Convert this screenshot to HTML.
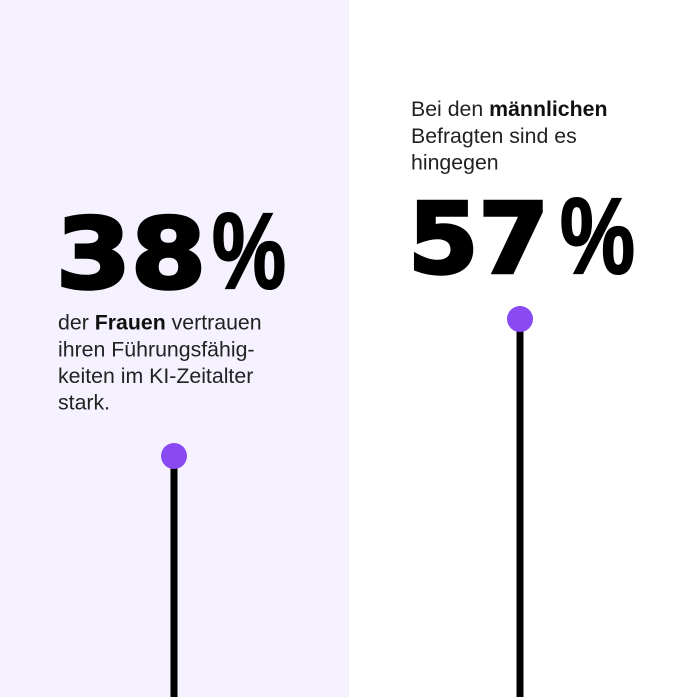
<!DOCTYPE html>
<html><head><meta charset="utf-8">
<style>
html,body{margin:0;padding:0;}
body{width:696px;height:697px;overflow:hidden;background:#fff;}
svg{display:block;}
.t{font-family:"Liberation Sans",sans-serif;font-size:21.3px;fill:#222;}
.b{font-weight:bold;fill:#111;}
.big{font-family:"DejaVu Sans","Liberation Sans",sans-serif;font-weight:bold;font-size:97px;fill:#000;stroke:#000;stroke-width:3.5px;stroke-linejoin:miter;}
.pct{font-family:"Liberation Sans",sans-serif;font-weight:bold;font-size:108px;fill:#000;stroke:#000;stroke-width:2px;}
</style></head>
<body>
<svg width="696" height="697" viewBox="0 0 696 697" xmlns="http://www.w3.org/2000/svg">
<rect x="0" y="0" width="349" height="697" fill="#f5f1fe"/>
<rect x="349" y="0" width="347" height="697" fill="#ffffff"/>

<!-- left -->
<text class="big" x="56" y="287.5" textLength="150" lengthAdjust="spacingAndGlyphs">38</text>
<text class="pct" x="212" y="288" textLength="74" lengthAdjust="spacingAndGlyphs">%</text>
<text class="t" x="58" y="329.5">der <tspan class="b">Frauen</tspan> vertrauen</text>
<text class="t" x="58" y="356.5">ihren Führungsfähig-</text>
<text class="t" x="58" y="383">keiten im KI-Zeitalter</text>
<text class="t" x="58" y="409.5">stark.</text>
<rect x="170.5" y="456" width="7" height="241" fill="#000"/>
<circle cx="174" cy="456" r="13" fill="#8a4af3"/>

<!-- right -->
<text class="t" x="411" y="116">Bei den <tspan class="b">männlichen</tspan></text>
<text class="t" x="411" y="143">Befragten sind es</text>
<text class="t" x="411" y="169.5">hingegen</text>
<text class="big" x="408" y="272.5" textLength="141" lengthAdjust="spacingAndGlyphs">57</text>
<text class="pct" x="560" y="273" textLength="75" lengthAdjust="spacingAndGlyphs">%</text>
<rect x="516.5" y="319" width="7" height="378" fill="#000"/>
<circle cx="520" cy="319" r="13" fill="#8a4af3"/>
</svg>
</body></html>
